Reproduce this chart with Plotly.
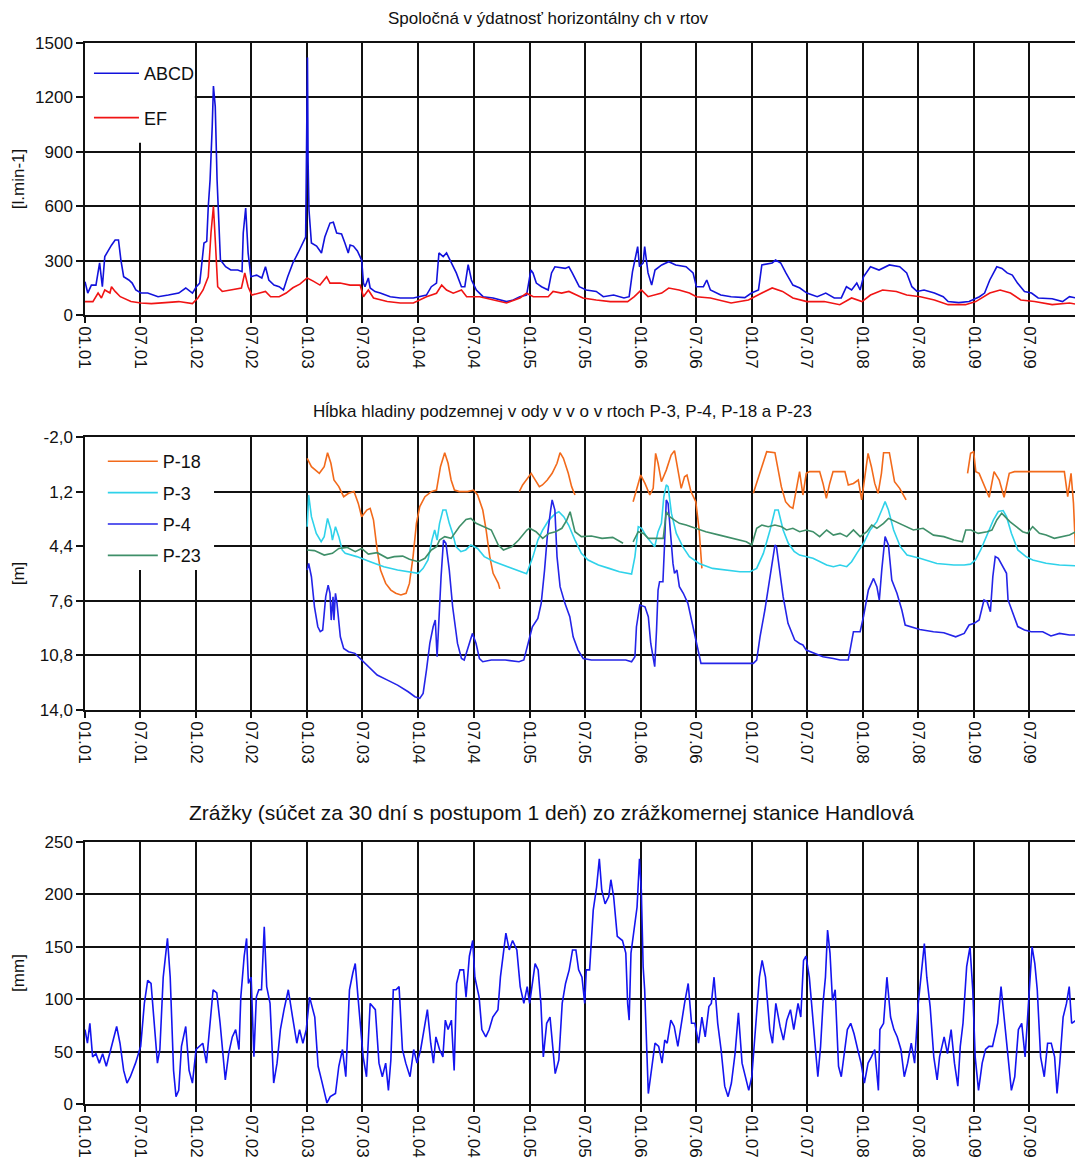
import plotly.graph_objects as go

# ---------------- data ----------------
TICK_DATES = ["2001-01-01", "2001-07-01", "2002-01-01", "2002-07-01", "2003-01-01", "2003-07-01",
              "2004-01-01", "2004-07-01", "2005-01-01", "2005-07-01", "2006-01-01", "2006-07-01",
              "2007-01-01", "2007-07-01", "2008-01-01", "2008-07-01", "2009-01-01", "2009-07-01"]
TICK_LABELS = ["01.01", "07.01", "01.02", "07.02", "01.03", "07.03", "01.04", "07.04", "01.05",
               "07.05", "01.06", "07.06", "01.07", "07.07", "01.08", "07.08", "01.09", "07.09"]

ABCD = [("2001-01-01", 184), ("2001-01-10", 121), ("2001-01-22", 165), ("2001-02-06", 165), ("2001-02-18", 287),
        ("2001-02-27", 156), ("2001-03-07", 322), ("2001-03-18", 358), ("2001-03-29", 385), ("2001-04-10", 414),
        ("2001-04-21", 414), ("2001-04-29", 303), ("2001-05-08", 211), ("2001-05-25", 193), ("2001-06-05", 176),
        ("2001-06-17", 138), ("2001-07-04", 121), ("2001-07-26", 121), ("2001-08-29", 101), ("2001-10-02", 110),
        ("2001-11-05", 121), ("2001-11-28", 149), ("2001-12-20", 121), ("2002-01-02", 156), ("2002-01-13", 176),
        ("2002-01-27", 397), ("2002-02-05", 406), ("2002-02-10", 597), ("2002-02-16", 745), ("2002-02-23", 1038),
        ("2002-02-27", 1263), ("2002-03-05", 1149), ("2002-03-11", 745), ("2002-03-22", 303), ("2002-04-08", 266),
        ("2002-04-25", 248), ("2002-05-18", 248), ("2002-06-01", 239), ("2002-06-05", 452), ("2002-06-13", 590),
        ("2002-06-21", 342), ("2002-06-30", 211), ("2002-07-19", 220), ("2002-08-05", 204), ("2002-08-17", 266),
        ("2002-08-28", 193), ("2002-09-14", 165), ("2002-10-01", 156), ("2002-10-15", 138), ("2002-10-29", 211),
        ("2002-11-15", 287), ("2002-12-02", 342), ("2002-12-19", 397), ("2002-12-27", 430), ("2002-12-31", 1100),
        ("2003-01-02", 1420), ("2003-01-04", 850), ("2003-01-07", 579), ("2003-01-15", 397), ("2003-02-01", 380),
        ("2003-02-17", 342), ("2003-02-28", 430), ("2003-03-17", 507), ("2003-03-28", 512), ("2003-04-08", 452),
        ("2003-04-24", 447), ("2003-05-05", 397), ("2003-05-16", 342), ("2003-05-22", 386), ("2003-06-02", 380),
        ("2003-06-15", 353), ("2003-06-29", 303), ("2003-07-05", 176), ("2003-07-10", 156), ("2003-07-21", 204),
        ("2003-07-27", 149), ("2003-08-12", 129), ("2003-08-29", 121), ("2003-10-01", 101), ("2003-11-03", 94),
        ("2003-12-16", 94), ("2004-01-06", 101), ("2004-01-28", 110), ("2004-02-13", 156), ("2004-03-01", 176),
        ("2004-03-09", 342), ("2004-03-23", 322), ("2004-04-03", 342), ("2004-04-19", 287), ("2004-05-05", 232),
        ("2004-05-22", 156), ("2004-06-02", 156), ("2004-06-13", 278), ("2004-06-24", 193), ("2004-07-10", 138),
        ("2004-08-01", 101), ("2004-09-03", 94), ("2004-10-17", 74), ("2004-11-08", 83), ("2004-11-30", 101),
        ("2004-12-22", 110), ("2005-01-05", 248), ("2005-01-12", 232), ("2005-01-23", 176), ("2005-02-09", 156),
        ("2005-03-03", 138), ("2005-03-14", 232), ("2005-03-25", 266), ("2005-04-28", 257), ("2005-05-10", 266),
        ("2005-05-21", 232), ("2005-06-13", 156), ("2005-07-06", 138), ("2005-08-08", 130), ("2005-08-31", 101),
        ("2005-10-04", 110), ("2005-11-07", 94), ("2005-11-24", 101), ("2005-12-05", 239), ("2005-12-22", 377),
        ("2005-12-28", 266), ("2006-01-09", 287), ("2006-01-14", 377), ("2006-01-25", 232), ("2006-02-06", 165),
        ("2006-02-17", 248), ("2006-03-11", 276), ("2006-04-03", 294), ("2006-04-26", 276), ("2006-05-30", 266),
        ("2006-06-22", 232), ("2006-07-03", 156), ("2006-07-26", 156), ("2006-08-06", 193), ("2006-08-18", 138),
        ("2006-09-21", 110), ("2006-10-25", 101), ("2006-12-09", 96), ("2006-12-31", 121), ("2007-01-23", 138),
        ("2007-02-03", 276), ("2007-03-09", 287), ("2007-03-20", 303), ("2007-04-06", 287), ("2007-04-23", 232),
        ("2007-05-16", 165), ("2007-06-08", 149), ("2007-07-01", 121), ("2007-08-04", 101), ("2007-09-01", 121),
        ("2007-09-29", 94), ("2007-10-22", 94), ("2007-11-08", 156), ("2007-11-25", 138), ("2007-12-12", 176),
        ("2007-12-23", 138), ("2008-01-03", 211), ("2008-01-26", 266), ("2008-02-23", 248), ("2008-03-28", 276),
        ("2008-05-01", 266), ("2008-05-24", 232), ("2008-06-10", 156), ("2008-06-27", 130), ("2008-07-20", 138),
        ("2008-08-23", 121), ("2008-09-21", 101), ("2008-10-07", 74), ("2008-11-11", 68), ("2008-12-15", 74),
        ("2009-01-18", 101), ("2009-02-04", 121), ("2009-02-21", 193), ("2009-03-16", 266), ("2009-04-02", 257),
        ("2009-04-19", 232), ("2009-05-06", 220), ("2009-05-23", 176), ("2009-06-15", 130), ("2009-07-08", 121),
        ("2009-07-30", 94), ("2009-09-14", 90), ("2009-10-18", 74), ("2009-11-10", 101), ("2009-12-01", 94)]

EF = [("2001-01-01", 74), ("2001-01-27", 74), ("2001-02-13", 121), ("2001-02-24", 94), ("2001-03-07", 138),
      ("2001-03-24", 121), ("2001-03-29", 156), ("2001-04-10", 130), ("2001-04-27", 101), ("2001-06-01", 74),
      ("2001-07-04", 66), ("2001-08-07", 63), ("2001-09-22", 68), ("2001-11-05", 74), ("2001-12-20", 63),
      ("2002-01-07", 94), ("2002-01-24", 138), ("2002-02-10", 211), ("2002-02-19", 452), ("2002-02-27", 600),
      ("2002-03-05", 414), ("2002-03-13", 156), ("2002-03-28", 130), ("2002-04-25", 138), ("2002-05-30", 149),
      ("2002-06-10", 232), ("2002-06-21", 156), ("2002-07-03", 110), ("2002-07-26", 121), ("2002-08-17", 130),
      ("2002-09-03", 101), ("2002-10-01", 101), ("2002-10-24", 121), ("2002-11-15", 150), ("2002-12-08", 170),
      ("2003-01-01", 204), ("2003-01-21", 187), ("2003-02-12", 165), ("2003-03-06", 211), ("2003-03-17", 176),
      ("2003-04-19", 176), ("2003-05-22", 165), ("2003-06-24", 165), ("2003-07-05", 101), ("2003-07-21", 138),
      ("2003-08-07", 94), ("2003-09-21", 74), ("2003-11-03", 66), ("2003-12-16", 66), ("2004-01-28", 101),
      ("2004-03-01", 120), ("2004-03-18", 165), ("2004-04-03", 138), ("2004-04-25", 120), ("2004-05-22", 138),
      ("2004-06-08", 101), ("2004-07-21", 101), ("2004-09-03", 83), ("2004-10-17", 66), ("2004-11-30", 94),
      ("2004-12-22", 120), ("2005-01-13", 101), ("2005-03-03", 101), ("2005-03-19", 130), ("2005-04-16", 121),
      ("2005-05-10", 130), ("2005-06-25", 94), ("2005-08-08", 83), ("2005-09-23", 74), ("2005-11-19", 74),
      ("2005-12-11", 101), ("2006-01-03", 138), ("2006-01-25", 101), ("2006-03-11", 121), ("2006-04-03", 149),
      ("2006-05-07", 138), ("2006-06-10", 121), ("2006-07-03", 101), ("2006-08-18", 94), ("2006-10-25", 66),
      ("2006-12-21", 83), ("2007-02-03", 121), ("2007-03-09", 149), ("2007-04-12", 130), ("2007-05-16", 94),
      ("2007-07-01", 74), ("2007-08-27", 74), ("2007-10-17", 57), ("2007-11-25", 94), ("2007-12-29", 74),
      ("2008-01-26", 110), ("2008-03-06", 138), ("2008-04-20", 130), ("2008-05-24", 110), ("2008-07-08", 101),
      ("2008-08-23", 83), ("2008-10-07", 57), ("2008-12-03", 57), ("2009-01-06", 74), ("2009-02-21", 121),
      ("2009-03-27", 138), ("2009-04-30", 121), ("2009-06-03", 83), ("2009-07-18", 74), ("2009-09-14", 57),
      ("2009-11-10", 66), ("2009-12-01", 60)]

P18 = [("2003-01-01", -0.75), ("2003-01-15", -0.26), ("2003-02-10", 0.13), ("2003-02-26", -0.26), ("2003-03-09", -1.08),
       ("2003-03-20", -0.46), ("2003-03-30", 0.52), ("2003-04-15", 0.91), ("2003-05-01", 1.50), ("2003-05-17", 1.30),
       ("2003-06-04", 1.20), ("2003-06-18", 1.89), ("2003-06-29", 2.67), ("2003-07-16", 2.28), ("2003-07-27", 2.18),
       ("2003-08-07", 2.87), ("2003-08-19", 4.62), ("2003-08-30", 5.80), ("2003-09-16", 6.58), ("2003-10-03", 6.97),
       ("2003-10-19", 7.16), ("2003-11-05", 7.26), ("2003-11-22", 7.16), ("2003-12-03", 6.58), ("2003-12-15", 5.01),
       ("2003-12-26", 3.06), ("2004-01-06", 2.08), ("2004-01-23", 1.50), ("2004-02-13", 1.20), ("2004-03-01", 1.11),
       ("2004-03-14", -0.26), ("2004-03-28", -1.08), ("2004-04-08", -0.46), ("2004-04-18", 0.52), ("2004-04-29", 1.11),
       ("2004-05-15", 1.20), ("2004-06-11", 1.20), ("2004-07-01", 1.11), ("2004-07-14", 1.40), ("2004-07-31", 2.28),
       ("2004-08-11", 3.45), ("2004-08-23", 5.01), ("2004-09-03", 5.99), ("2004-09-20", 6.58), ("2004-09-25", 6.90),
       ("2004-10-15", None),
       ("2004-11-28", 1.20), ("2004-12-09", 0.81), ("2005-01-06", 0.13), ("2005-01-17", 0.42), ("2005-02-02", 0.91),
       ("2005-02-12", 0.81), ("2005-02-28", 0.52), ("2005-03-16", 0.13), ("2005-04-01", -0.46), ("2005-04-11", -1.08),
       ("2005-04-22", -0.75), ("2005-05-08", 0.13), ("2005-05-19", 0.91), ("2005-05-30", 1.40),
       ("2005-06-30", None),
       ("2005-12-07", 1.79), ("2005-12-18", 1.11), ("2006-01-01", 0.23), ("2006-01-15", 0.72), ("2006-01-31", 1.40),
       ("2006-02-11", 1.01), ("2006-02-19", -1.04), ("2006-02-27", -0.46), ("2006-03-10", 0.62), ("2006-03-26", -0.06),
       ("2006-04-11", -0.94), ("2006-04-22", -1.20), ("2006-05-03", -0.06), ("2006-05-14", 1.01), ("2006-05-25", 0.33),
       ("2006-06-02", 0.23), ("2006-06-15", 1.20), ("2006-07-01", 1.79), ("2006-07-12", 3.45), ("2006-07-17", 5.01),
       ("2006-07-21", 5.70),
       ("2006-09-01", None),
       ("2007-01-06", 1.30), ("2007-01-28", 0.13), ("2007-02-19", -1.14), ("2007-03-18", -1.08), ("2007-04-08", 0.91),
       ("2007-04-22", 1.79), ("2007-05-06", 2.08), ("2007-05-16", 2.18), ("2007-05-27", 1.11), ("2007-06-07", 0.03),
       ("2007-06-18", 1.40), ("2007-06-29", 0.13), ("2007-07-10", 0.03), ("2007-08-12", 0.03), ("2007-08-23", 0.72),
       ("2007-09-03", 1.60), ("2007-09-14", 0.72), ("2007-09-25", 0.03), ("2007-11-03", 0.03), ("2007-11-14", 0.81),
       ("2007-12-01", 0.72), ("2007-12-17", 0.52), ("2007-12-28", 1.69), ("2008-01-07", 0.33), ("2008-01-18", -1.04),
       ("2008-01-29", -0.26), ("2008-02-09", 0.72), ("2008-02-20", 1.30), ("2008-03-02", 0.13), ("2008-03-09", -1.08),
       ("2008-03-28", -1.08), ("2008-04-14", 0.62), ("2008-05-01", 1.01), ("2008-05-22", 1.69),
       ("2008-08-01", None),
       ("2008-12-10", 0.13), ("2008-12-20", -1.05), ("2008-12-30", -1.14), ("2009-01-06", 0.03), ("2009-01-17", 0.13),
       ("2009-02-03", 0.91), ("2009-02-19", 1.53), ("2009-03-07", 0.03), ("2009-03-24", 0.52), ("2009-04-09", 1.53),
       ("2009-04-26", 0.13), ("2009-05-13", 0.03), ("2009-07-01", 0.03), ("2009-08-14", 0.03), ("2009-10-24", 0.03),
       ("2009-11-04", 1.49), ("2009-11-15", 0.13), ("2009-11-23", 1.89), ("2009-11-29", 4.33)]

P3 = [("2003-01-01", 3.26), ("2003-01-06", 1.40), ("2003-01-15", 2.67), ("2003-01-31", 3.65), ("2003-02-16", 4.14),
      ("2003-02-26", 3.84), ("2003-03-09", 2.77), ("2003-03-20", 3.45), ("2003-03-25", 4.04), ("2003-04-04", 3.26),
      ("2003-04-15", 3.84), ("2003-04-26", 4.62), ("2003-05-06", 4.82), ("2003-06-13", 5.01), ("2003-07-27", 5.31),
      ("2003-09-10", 5.60), ("2003-10-25", 5.80), ("2003-12-09", 5.90), ("2004-01-01", 5.99), ("2004-01-17", 5.70),
      ("2004-02-02", 5.21), ("2004-02-15", 4.04), ("2004-02-24", 3.45), ("2004-03-03", 4.04), ("2004-03-11", 3.06),
      ("2004-03-22", 2.28), ("2004-04-01", 2.28), ("2004-04-12", 3.06), ("2004-04-23", 3.65), ("2004-05-04", 4.43),
      ("2004-05-20", 4.72), ("2004-06-05", 4.62), ("2004-06-22", 4.33), ("2004-07-14", 4.53), ("2004-08-05", 5.01),
      ("2004-09-07", 5.31), ("2004-10-22", 5.60), ("2004-12-05", 5.90), ("2004-12-22", 6.02), ("2005-01-12", 5.01),
      ("2005-01-28", 4.04), ("2005-02-13", 3.45), ("2005-03-05", 2.87), ("2005-03-27", 2.48), ("2005-04-07", 2.38),
      ("2005-04-23", 2.67), ("2005-05-09", 3.16), ("2005-05-30", 4.04), ("2005-06-20", 4.82), ("2005-07-12", 5.21),
      ("2005-08-15", 5.50), ("2005-09-19", 5.70), ("2005-10-23", 5.90), ("2005-12-02", 6.03), ("2005-12-13", 5.01),
      ("2005-12-24", 3.26), ("2006-01-04", 3.35), ("2006-01-20", 3.84), ("2006-02-05", 4.23), ("2006-02-16", 4.43),
      ("2006-02-27", 3.55), ("2006-03-10", 3.06), ("2006-03-18", 1.50), ("2006-03-26", 0.81), ("2006-04-01", 0.91),
      ("2006-04-12", 2.48), ("2006-04-28", 3.65), ("2006-05-19", 4.43), ("2006-06-10", 5.01), ("2006-07-12", 5.41),
      ("2006-08-25", 5.70), ("2006-10-09", 5.80), ("2006-11-23", 5.90), ("2006-12-26", 5.90), ("2007-01-17", 5.70),
      ("2007-02-08", 4.82), ("2007-03-02", 3.45), ("2007-03-18", 2.28), ("2007-03-29", 2.28), ("2007-04-14", 3.45),
      ("2007-05-01", 4.23), ("2007-05-20", 4.70), ("2007-06-07", 4.92), ("2007-07-21", 5.11), ("2007-09-04", 5.50),
      ("2007-09-26", 5.60), ("2007-10-18", 5.50), ("2007-11-09", 5.60), ("2007-11-25", 5.31), ("2007-12-12", 4.82),
      ("2008-01-03", 4.23), ("2008-01-25", 3.45), ("2008-02-16", 2.96), ("2008-03-03", 2.28), ("2008-03-14", 1.79),
      ("2008-03-25", 2.28), ("2008-04-11", 3.45), ("2008-05-03", 4.43), ("2008-05-25", 4.92), ("2008-07-06", 5.11),
      ("2008-08-31", 5.41), ("2008-10-26", 5.50), ("2008-11-29", 5.50), ("2008-12-20", 5.45), ("2009-01-05", 5.20),
      ("2009-01-22", 4.62), ("2009-02-12", 3.74), ("2009-03-05", 2.86), ("2009-03-21", 2.37), ("2009-04-06", 2.31),
      ("2009-04-17", 2.67), ("2009-05-03", 3.64), ("2009-05-24", 4.62), ("2009-06-20", 5.01), ("2009-07-12", 5.21),
      ("2009-08-25", 5.40), ("2009-10-08", 5.50), ("2009-11-22", 5.54), ("2009-12-01", 5.55)]

P4 = [("2003-01-01", 5.80), ("2003-01-06", 5.41), ("2003-01-15", 6.19), ("2003-01-25", 7.95), ("2003-02-05", 9.12),
      ("2003-02-13", 9.41), ("2003-02-21", 9.31), ("2003-03-03", 7.36), ("2003-03-11", 6.68), ("2003-03-17", 7.16),
      ("2003-03-21", 8.73), ("2003-03-27", 7.36), ("2003-03-30", 8.73), ("2003-04-04", 7.16), ("2003-04-09", 7.75),
      ("2003-04-20", 9.71), ("2003-05-01", 10.39), ("2003-05-17", 10.58), ("2003-06-07", 10.68), ("2003-06-29", 11.07),
      ("2003-07-21", 11.46), ("2003-08-19", 11.95), ("2003-09-22", 12.25), ("2003-10-25", 12.54), ("2003-11-29", 12.93),
      ("2003-12-21", 13.22), ("2004-01-06", 13.32), ("2004-01-17", 13.03), ("2004-01-28", 11.66), ("2004-02-08", 10.10),
      ("2004-02-19", 9.12), ("2004-02-26", 8.73), ("2004-03-03", 10.88), ("2004-03-08", 8.92), ("2004-03-16", 6.19),
      ("2004-03-24", 4.04), ("2004-04-01", 4.23), ("2004-04-12", 5.80), ("2004-04-23", 7.95), ("2004-05-09", 10.10),
      ("2004-05-22", 10.98), ("2004-05-31", 11.07), ("2004-06-11", 10.49), ("2004-06-27", 9.51), ("2004-07-09", 10.10),
      ("2004-07-20", 10.98), ("2004-07-31", 11.17), ("2004-08-28", 11.07), ("2004-10-13", 11.07), ("2004-11-27", 11.17),
      ("2004-12-13", 11.07), ("2004-12-24", 10.29), ("2005-01-10", 9.12), ("2005-01-28", 8.63), ("2005-02-08", 7.75),
      ("2005-02-19", 5.80), ("2005-02-28", 3.84), ("2005-03-11", 2.28), ("2005-03-16", 1.69), ("2005-03-25", 2.28),
      ("2005-04-01", 5.01), ("2005-04-11", 6.77), ("2005-04-27", 7.75), ("2005-05-13", 8.53), ("2005-05-24", 9.71),
      ("2005-06-09", 10.49), ("2005-06-26", 10.98), ("2005-07-23", 11.07), ("2005-09-29", 11.07), ("2005-11-13", 11.07),
      ("2005-12-02", 11.17), ("2005-12-13", 10.88), ("2005-12-18", 9.12), ("2005-12-29", 7.85), ("2006-01-15", 7.95),
      ("2006-01-26", 8.53), ("2006-02-03", 10.10), ("2006-02-11", 11.07), ("2006-02-16", 11.46), ("2006-02-22", 9.31),
      ("2006-02-27", 6.97), ("2006-03-04", 6.48), ("2006-03-15", 6.48), ("2006-03-20", 4.43), ("2006-03-26", 1.69),
      ("2006-04-01", 1.89), ("2006-04-08", 3.45), ("2006-04-17", 5.41), ("2006-04-22", 5.99), ("2006-04-30", 5.80),
      ("2006-05-08", 6.77), ("2006-05-21", 7.16), ("2006-06-05", 7.75), ("2006-06-21", 9.12), ("2006-07-07", 10.29),
      ("2006-07-18", 11.27), ("2006-09-17", 11.27), ("2006-11-12", 11.27), ("2007-01-06", 11.27), ("2007-01-17", 11.07),
      ("2007-01-28", 9.71), ("2007-02-13", 8.14), ("2007-03-02", 6.19), ("2007-03-12", 4.92), ("2007-03-18", 4.33),
      ("2007-03-23", 4.43), ("2007-04-03", 5.80), ("2007-04-14", 7.36), ("2007-04-30", 8.92), ("2007-05-22", 9.90),
      ("2007-06-07", 10.10), ("2007-06-18", 10.19), ("2007-06-29", 10.49), ("2007-07-21", 10.64), ("2007-08-23", 10.88),
      ("2007-09-26", 10.98), ("2007-10-18", 11.07), ("2007-11-14", 11.07), ("2007-12-01", 9.41), ("2007-12-23", 9.41),
      ("2008-01-03", 8.53), ("2008-01-19", 6.97), ("2008-02-05", 6.29), ("2008-02-16", 6.77), ("2008-02-24", 7.56),
      ("2008-03-03", 5.80), ("2008-03-14", 3.84), ("2008-03-25", 4.33), ("2008-04-05", 6.38), ("2008-04-22", 7.16),
      ("2008-05-08", 8.14), ("2008-05-19", 9.02), ("2008-06-04", 9.12), ("2008-07-06", 9.28), ("2008-08-20", 9.41),
      ("2008-09-23", 9.47), ("2008-11-01", 9.71), ("2008-11-29", 9.51), ("2008-12-15", 9.02), ("2009-01-01", 8.92),
      ("2009-01-17", 8.72), ("2009-02-02", 7.55), ("2009-02-12", 7.65), ("2009-02-23", 8.24), ("2009-03-03", 6.18),
      ("2009-03-11", 5.01), ("2009-03-21", 5.11), ("2009-04-06", 5.60), ("2009-04-17", 5.99), ("2009-04-22", 7.55),
      ("2009-05-08", 8.33), ("2009-05-24", 9.11), ("2009-06-15", 9.31), ("2009-07-07", 9.41), ("2009-08-14", 9.41),
      ("2009-09-10", 9.66), ("2009-10-08", 9.51), ("2009-11-10", 9.60), ("2009-12-01", 9.60)]

P23 = [("2003-01-01", 4.62), ("2003-01-25", 4.66), ("2003-02-26", 4.92), ("2003-03-25", 4.82), ("2003-04-15", 4.53),
       ("2003-05-12", 4.47), ("2003-06-08", 4.72), ("2003-06-29", 4.53), ("2003-07-21", 4.86), ("2003-08-19", 4.78),
       ("2003-09-22", 5.11), ("2003-10-14", 5.01), ("2003-11-11", 4.98), ("2003-12-03", 5.17), ("2004-01-01", 5.31),
       ("2004-01-23", 5.11), ("2004-02-13", 4.62), ("2004-03-01", 4.43), ("2004-03-11", 4.04), ("2004-03-28", 3.84),
       ("2004-04-18", 3.94), ("2004-05-15", 3.26), ("2004-06-06", 2.83), ("2004-06-22", 2.77), ("2004-07-09", 3.06),
       ("2004-08-05", 3.26), ("2004-08-28", 3.45), ("2004-09-20", 4.33), ("2004-10-07", 4.62), ("2004-11-03", 4.43),
       ("2004-11-26", 4.04), ("2004-12-23", 3.45), ("2005-01-01", 3.35), ("2005-01-22", 3.55), ("2005-02-13", 3.94),
       ("2005-03-05", 3.65), ("2005-03-27", 3.55), ("2005-04-17", 3.35), ("2005-05-03", 2.87), ("2005-05-14", 2.38),
       ("2005-05-30", 3.55), ("2005-06-20", 3.84), ("2005-07-23", 3.80), ("2005-08-27", 3.94), ("2005-10-01", 3.88),
       ("2005-11-04", 4.23),
       ("2005-11-20", None),
       ("2005-12-07", 4.14), ("2005-12-24", 3.55), ("2006-01-10", 3.65), ("2006-01-26", 3.94), ("2006-02-11", 3.94),
       ("2006-03-16", 3.94), ("2006-03-26", 2.38), ("2006-04-06", 2.67), ("2006-04-22", 2.87), ("2006-05-08", 3.06),
       ("2006-05-30", 3.16), ("2006-07-01", 3.35), ("2006-08-03", 3.55), ("2006-09-17", 3.75), ("2006-10-31", 3.94),
       ("2006-12-14", 4.14), ("2007-01-01", 4.33), ("2007-01-17", 3.35), ("2007-02-03", 3.16), ("2007-02-24", 3.26),
       ("2007-03-18", 3.16), ("2007-04-09", 3.26), ("2007-04-25", 3.45), ("2007-05-16", 3.35), ("2007-06-07", 3.55),
       ("2007-06-29", 3.45), ("2007-07-21", 3.55), ("2007-08-12", 3.84), ("2007-09-04", 3.45), ("2007-09-26", 3.75),
       ("2007-10-18", 3.65), ("2007-11-09", 3.84), ("2007-12-01", 3.45), ("2007-12-23", 3.84), ("2008-01-14", 3.55),
       ("2008-01-30", 3.16), ("2008-02-16", 3.35), ("2008-03-09", 3.06), ("2008-03-25", 2.77), ("2008-04-16", 2.96),
       ("2008-05-14", 3.16), ("2008-06-15", 3.45), ("2008-07-17", 3.35), ("2008-08-20", 3.75), ("2008-09-23", 3.84),
       ("2008-10-26", 4.04), ("2008-11-23", 4.14), ("2008-12-04", 3.45), ("2008-12-21", 3.45), ("2009-01-14", 3.65),
       ("2009-02-12", 3.55), ("2009-02-28", 3.45), ("2009-03-16", 2.86), ("2009-04-01", 2.47), ("2009-04-12", 2.67),
       ("2009-04-28", 2.96), ("2009-05-19", 3.25), ("2009-06-09", 3.55), ("2009-06-25", 3.64), ("2009-07-12", 3.25),
       ("2009-08-03", 3.64), ("2009-08-25", 3.74), ("2009-09-21", 3.94), ("2009-10-19", 3.84), ("2009-11-10", 3.74),
       ("2009-12-01", 3.55)]

RAIN = [("2001-01-01", 71), ("2001-01-09", 58), ("2001-01-17", 77), ("2001-01-26", 45), ("2001-02-06", 48),
        ("2001-02-17", 39), ("2001-02-28", 48), ("2001-03-12", 36), ("2001-03-23", 48), ("2001-04-03", 61),
        ("2001-04-15", 74), ("2001-04-26", 58), ("2001-05-08", 32), ("2001-05-19", 20), ("2001-05-30", 26),
        ("2001-06-16", 39), ("2001-07-03", 55), ("2001-07-15", 96), ("2001-07-26", 118), ("2001-08-06", 115),
        ("2001-08-18", 71), ("2001-08-27", 39), ("2001-09-04", 52), ("2001-09-15", 121), ("2001-09-21", 137),
        ("2001-09-29", 158), ("2001-10-08", 121), ("2001-10-19", 32), ("2001-10-27", 7), ("2001-11-05", 13),
        ("2001-11-14", 55), ("2001-11-28", 74), ("2001-12-09", 32), ("2001-12-20", 20), ("2002-01-01", 52),
        ("2002-01-23", 58), ("2002-02-04", 39), ("2002-02-15", 77), ("2002-02-26", 109), ("2002-03-10", 106),
        ("2002-03-21", 77), ("2002-04-07", 23), ("2002-04-18", 48), ("2002-04-30", 64), ("2002-05-11", 71),
        ("2002-05-22", 52), ("2002-05-28", 102), ("2002-06-08", 141), ("2002-06-16", 158), ("2002-06-22", 115),
        ("2002-07-01", 121), ("2002-07-10", 45), ("2002-07-18", 102), ("2002-07-26", 109), ("2002-08-04", 109),
        ("2002-08-13", 169), ("2002-08-21", 112), ("2002-09-01", 96), ("2002-09-13", 20), ("2002-09-24", 39),
        ("2002-10-05", 71), ("2002-10-17", 90), ("2002-10-31", 109), ("2002-11-14", 83), ("2002-11-28", 58),
        ("2002-12-07", 71), ("2002-12-18", 58), ("2002-12-29", 71), ("2003-01-09", 102), ("2003-01-26", 83),
        ("2003-02-06", 36), ("2003-02-17", 23), ("2003-03-01", 10), ("2003-03-07", 1), ("2003-03-18", 7),
        ("2003-04-04", 10), ("2003-04-15", 36), ("2003-04-27", 52), ("2003-05-08", 26), ("2003-05-20", 109),
        ("2003-05-31", 125), ("2003-06-08", 134), ("2003-06-17", 102), ("2003-06-28", 67), ("2003-07-04", 45),
        ("2003-07-15", 26), ("2003-07-27", 96), ("2003-08-13", 90), ("2003-08-25", 39), ("2003-09-05", 26),
        ("2003-09-16", 39), ("2003-09-25", 13), ("2003-10-03", 42), ("2003-10-11", 109), ("2003-10-20", 109),
        ("2003-10-30", 112), ("2003-11-10", 52), ("2003-11-21", 39), ("2003-12-05", 26), ("2003-12-17", 52),
        ("2003-12-28", 39), ("2004-01-09", 52), ("2004-01-20", 71), ("2004-01-31", 90), ("2004-02-11", 58),
        ("2004-02-20", 39), ("2004-02-28", 64), ("2004-03-11", 52), ("2004-03-22", 45), ("2004-03-30", 80),
        ("2004-04-08", 71), ("2004-04-19", 80), ("2004-04-28", 32), ("2004-05-06", 115), ("2004-05-17", 128),
        ("2004-05-29", 128), ("2004-06-06", 102), ("2004-06-17", 141), ("2004-06-28", 156), ("2004-07-05", 121),
        ("2004-07-19", 102), ("2004-07-28", 71), ("2004-08-10", 64), ("2004-08-21", 71), ("2004-09-02", 83),
        ("2004-09-19", 90), ("2004-09-27", 121), ("2004-10-06", 141), ("2004-10-15", 163), ("2004-10-26", 147),
        ("2004-11-06", 156), ("2004-11-20", 147), ("2004-12-01", 112), ("2004-12-13", 96), ("2004-12-24", 112),
        ("2005-01-01", 96), ("2005-01-19", 134), ("2005-01-29", 128), ("2005-02-07", 96), ("2005-02-15", 45),
        ("2005-02-26", 77), ("2005-03-09", 83), ("2005-03-17", 58), ("2005-03-26", 29), ("2005-04-07", 42),
        ("2005-04-18", 96), ("2005-04-29", 115), ("2005-05-11", 128), ("2005-05-22", 147), ("2005-06-02", 147),
        ("2005-06-11", 128), ("2005-06-22", 121), ("2005-07-01", 96), ("2005-07-06", 128), ("2005-07-17", 128),
        ("2005-07-29", 185), ("2005-08-09", 207), ("2005-08-18", 234), ("2005-08-26", 204), ("2005-09-06", 191),
        ("2005-09-18", 198), ("2005-09-25", 214), ("2005-10-04", 198), ("2005-10-16", 160), ("2005-11-02", 156),
        ("2005-11-13", 144), ("2005-11-19", 96), ("2005-11-24", 80), ("2005-11-30", 144), ("2005-12-11", 166),
        ("2005-12-20", 188), ("2005-12-28", 234), ("2006-01-03", 204), ("2006-01-09", 131), ("2006-01-14", 109),
        ("2006-01-26", 10), ("2006-02-06", 32), ("2006-02-17", 58), ("2006-03-01", 55), ("2006-03-12", 39),
        ("2006-03-21", 61), ("2006-03-29", 58), ("2006-04-10", 80), ("2006-04-21", 74), ("2006-05-03", 55),
        ("2006-05-14", 77), ("2006-05-25", 96), ("2006-06-06", 115), ("2006-06-17", 77), ("2006-06-28", 77),
        ("2006-07-10", 58), ("2006-07-21", 83), ("2006-08-01", 64), ("2006-08-13", 93), ("2006-08-21", 96),
        ("2006-08-30", 121), ("2006-09-11", 77), ("2006-09-22", 52), ("2006-10-04", 17), ("2006-10-15", 7),
        ("2006-10-26", 20), ("2006-11-07", 48), ("2006-11-18", 87), ("2006-11-30", 39), ("2006-12-11", 26),
        ("2006-12-22", 13), ("2007-01-01", 26), ("2007-01-14", 77), ("2007-01-26", 121), ("2007-02-04", 137),
        ("2007-02-15", 121), ("2007-03-01", 71), ("2007-03-10", 58), ("2007-03-21", 96), ("2007-04-04", 74),
        ("2007-04-15", 61), ("2007-04-26", 80), ("2007-05-08", 90), ("2007-05-19", 71), ("2007-06-02", 96),
        ("2007-06-11", 83), ("2007-06-20", 137), ("2007-06-28", 141), ("2007-07-09", 121), ("2007-07-15", 102),
        ("2007-07-26", 64), ("2007-08-06", 26), ("2007-08-15", 55), ("2007-08-23", 96), ("2007-08-31", 121),
        ("2007-09-07", 166), ("2007-09-15", 144), ("2007-09-23", 99), ("2007-10-02", 109), ("2007-10-13", 36),
        ("2007-10-22", 26), ("2007-10-30", 45), ("2007-11-11", 71), ("2007-11-22", 77), ("2007-12-03", 67),
        ("2007-12-15", 52), ("2007-12-26", 39), ("2008-01-06", 20), ("2008-01-18", 39), ("2008-01-29", 45),
        ("2008-02-09", 52), ("2008-02-21", 13), ("2008-02-26", 71), ("2008-03-09", 77), ("2008-03-20", 121),
        ("2008-04-01", 83), ("2008-04-12", 71), ("2008-04-23", 64), ("2008-05-05", 52), ("2008-05-16", 26),
        ("2008-05-27", 39), ("2008-06-08", 58), ("2008-06-19", 39), ("2008-07-01", 96), ("2008-07-12", 128),
        ("2008-07-21", 153), ("2008-07-29", 121), ("2008-08-09", 93), ("2008-08-21", 45), ("2008-09-01", 23),
        ("2008-09-09", 45), ("2008-09-24", 64), ("2008-10-05", 48), ("2008-10-17", 71), ("2008-10-28", 39),
        ("2008-11-08", 17), ("2008-11-16", 55), ("2008-11-25", 77), ("2008-12-07", 131), ("2008-12-18", 150),
        ("2008-12-27", 109), ("2009-01-04", 45), ("2009-01-15", 13), ("2009-01-27", 39), ("2009-02-07", 52),
        ("2009-02-18", 55), ("2009-03-02", 55), ("2009-03-19", 77), ("2009-03-30", 112), ("2009-04-10", 77),
        ("2009-04-22", 45), ("2009-05-03", 13), ("2009-05-14", 26), ("2009-05-26", 71), ("2009-06-06", 77),
        ("2009-06-17", 45), ("2009-06-29", 102), ("2009-07-10", 150), ("2009-07-19", 134), ("2009-07-27", 109),
        ("2009-08-07", 45), ("2009-08-19", 26), ("2009-08-30", 58), ("2009-09-11", 58), ("2009-09-22", 45),
        ("2009-09-30", 10), ("2009-10-09", 39), ("2009-10-20", 83), ("2009-10-31", 96), ("2009-11-09", 112),
        ("2009-11-17", 77), ("2009-12-02", 80)]

Q_TICKS = [0, 300, 600, 900, 1200, 1500]
H_TICKS = [-2.0, 1.2, 4.4, 7.6, 10.8, 14.0]
H_LABELS = ["-2,0", "1,2", "4,4", "7,6", "10,8", "14,0"]
R_TICKS = [0, 50, 100, 150, 200, 250]

X_RANGE = ["2001-01-01", "2009-11-28"]


def xs(series):
    return [d for d, _ in series]


def ys(series):
    return [v for _, v in series]


FONT = "Arial, 'Liberation Sans', Helvetica, sans-serif"
W, H = 1075, 1166
L_MARGIN = 85


def ydom(top_px, bottom_px):
    return [1 - bottom_px / H, 1 - top_px / H]


fig = go.Figure()

fig.add_trace(go.Scatter(x=xs(ABCD), y=ys(ABCD), name="ABCD", mode="lines",
                         line=dict(color="#1212dc", width=1.6), xaxis="x", yaxis="y",
                         legend="legend", legendgroup="abcd"))
fig.add_trace(go.Scatter(x=xs(EF), y=ys(EF), name="EF", mode="lines",
                         line=dict(color="#f01414", width=1.6), xaxis="x", yaxis="y",
                         legend="legend", legendgroup="ef"))

fig.add_trace(go.Scatter(x=xs(P18), y=ys(P18), name="P-18", mode="lines", connectgaps=False,
                         line=dict(color="#f26a1b", width=1.6), xaxis="x2", yaxis="y2",
                         legend="legend2", legendgroup="p18"))
fig.add_trace(go.Scatter(x=xs(P3), y=ys(P3), name="P-3", mode="lines",
                         line=dict(color="#2fd2ea", width=1.6), xaxis="x2", yaxis="y2",
                         legend="legend2", legendgroup="p3"))
fig.add_trace(go.Scatter(x=xs(P4), y=ys(P4), name="P-4", mode="lines",
                         line=dict(color="#2424e8", width=1.6), xaxis="x2", yaxis="y2",
                         legend="legend2", legendgroup="p4"))
fig.add_trace(go.Scatter(x=xs(P23), y=ys(P23), name="P-23", mode="lines", connectgaps=False,
                         line=dict(color="#3f8f69", width=1.6), xaxis="x2", yaxis="y2",
                         legend="legend2", legendgroup="p23"))

fig.add_trace(go.Scatter(x=xs(RAIN), y=ys(RAIN), name="Zrážky", mode="lines", showlegend=False,
                         line=dict(color="#1414f0", width=1.6), xaxis="x3", yaxis="y3"))

grid = dict(showgrid=True, gridcolor="#111111", gridwidth=1.5, zeroline=False, automargin=False,
            showline=True, linecolor="#111111", linewidth=1.5,
            ticks="outside", tickcolor="#111111", tickwidth=1.5,
            tickfont=dict(family=FONT, size=17, color="#111111"))

xcommon = dict(grid, type="date", range=X_RANGE, tickmode="array", tickvals=TICK_DATES,
               ticktext=TICK_LABELS, tickangle=90, ticklen=6, mirror=True, domain=[0, 1])

TITLE_FONT = dict(family=FONT, size=17, color="#111111")

fig.update_layout(
    width=W, height=H,
    margin=dict(l=L_MARGIN, r=0, t=0, b=0, autoexpand=False),
    paper_bgcolor="white", plot_bgcolor="white",
    font=dict(family=FONT, color="#111111"),
    xaxis=dict(xcommon, anchor="y"),
    xaxis2=dict(xcommon, anchor="y2"),
    xaxis3=dict(xcommon, anchor="y3"),
    yaxis=dict(grid, domain=ydom(43, 315), anchor="x", range=[0, 1500], tickmode="array",
               tickvals=Q_TICKS, ticklen=7,
               title=dict(text="[l.min-1]", font=TITLE_FONT, standoff=6)),
    yaxis2=dict(grid, domain=ydom(437, 710), anchor="x2", range=[14, -2], tickmode="array",
                tickvals=H_TICKS, ticktext=H_LABELS, ticklen=7,
                title=dict(text="[m]", font=TITLE_FONT, standoff=11)),
    yaxis3=dict(grid, domain=ydom(842, 1104), anchor="x3", range=[0, 250], tickmode="array",
                tickvals=R_TICKS, ticklen=7,
                title=dict(text="[mm]", font=TITLE_FONT, standoff=16)),
    legend=dict(x=0.004, xanchor="left", y=1 - 55 / H, yanchor="top", bgcolor="rgba(255,255,255,0)",
                font=dict(family=FONT, size=18), traceorder="grouped", tracegroupgap=18, itemwidth=45),
    legend2=dict(x=0.018, xanchor="left", y=1 - 443 / H, yanchor="top", bgcolor="rgba(255,255,255,0)",
                 font=dict(family=FONT, size=18), traceorder="grouped", tracegroupgap=5, itemwidth=50),
    showlegend=True,
)

# white areas behind the legends (hide the grid there, as in the original)
fig.add_shape(type="rect", xref="x", yref="y", x0="2001-01-01", x1="2001-12-28", y0=950, y1=1500,
              fillcolor="white", line=dict(width=0), layer="between")
fig.add_shape(type="rect", xref="x2", yref="y2", x0="2001-01-01", x1="2002-03-01", y0=-2, y1=5.8,
              fillcolor="white", line=dict(width=0), layer="between")

titles = [
    ("Spoločná v ýdatnosť horizontálny ch v rtov", 548, 18, 17),
    ("Hĺbka hladiny podzemnej v ody v v o v rtoch P-3, P-4, P-18 a P-23", 562, 411, 17),
    ("Zrážky (súčet za 30 dní s postupom 1 deň) zo zrážkomernej stanice Handlová", 551, 812, 21),
]
for text, cx, cy, size in titles:
    fig.add_annotation(text=text, xref="paper", yref="paper",
                       x=(cx - L_MARGIN) / (W - L_MARGIN), y=1 - cy / H,
                       xanchor="center", yanchor="middle", showarrow=False,
                       font=dict(family=FONT, size=size, color="#111111"))

# the page's default body margin would shift the whole figure; remove it
fig.write_html("out.html", config={"displayModeBar": False},
               post_script="document.body.style.margin='0px';document.body.style.overflow='hidden';")
